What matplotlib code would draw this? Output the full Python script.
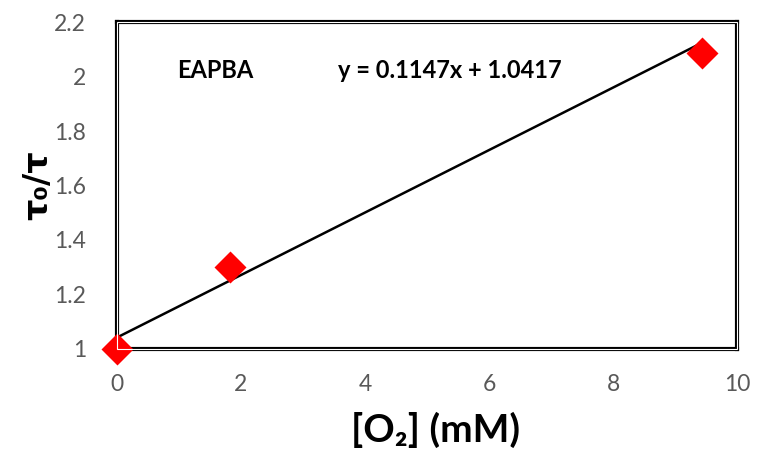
import numpy as np
import matplotlib.pyplot as plt
from matplotlib.patches import Rectangle

plt.rcParams['font.family'] = ['Lato', 'DejaVu Sans']

# data
o2_mm = [0.0, 1.83, 9.44]
tau_ratio = [1.0, 1.30, 2.085]
slope, intercept = 0.1147, 1.0417
xticks = [0, 2, 4, 6, 8, 10]
yticks = [1, 1.2, 1.4, 1.6, 1.8, 2, 2.2]

fig = plt.figure(figsize=(7.67, 4.54), dpi=100)
ax = fig.add_axes([0.1522, 0.2313, 0.8088, 0.7202])

# linear trendline
xfit = np.array([0, max(o2_mm)])
ax.plot(xfit, slope * xfit + intercept, color='black', lw=1.8, zorder=2)
ax.plot(o2_mm, tau_ratio, 'D', color='#ff0000', ms=16, mec='none', zorder=3, clip_on=False)

ax.set_xlim(0, 10)
ax.set_ylim(1, 2.2)
ax.set_xticks(xticks)
ax.set_xticklabels([str(t) for t in xticks])
ax.set_yticks(yticks)
ax.set_yticklabels(['1', '1.2', '1.4', '1.6', '1.8', '2', '2.2'])
ax.tick_params(length=0, labelsize=16.5, labelcolor='#595959')
ax.tick_params(axis='x', pad=18)
ax.tick_params(axis='y', pad=22)

# double-line frame
for s in ax.spines.values():
    s.set_linewidth(3.0)
    s.set_color('black')
ax.add_patch(Rectangle((0, 0), 1, 1, transform=ax.transAxes, fill=False,
                       ec='white', lw=0.8, clip_on=False, zorder=4))

ax.set_xlabel('[O₂] (mM)', fontsize=28, fontweight='bold', va='center')
ax.xaxis.set_label_coords(0.514, -0.248)
ax.set_ylabel('τ₀/τ', fontsize=24, fontweight='bold', va='center',
              family='DejaVu Sans')
ax.yaxis.set_label_coords(-0.128, 0.5)

ax.text(0.097, 0.853, 'EAPBA', transform=ax.transAxes, fontsize=17,
        fontweight='bold', va='center')
ax.text(0.356, 0.853, 'y = 0.1147x + 1.0417', transform=ax.transAxes,
        fontsize=17, fontweight='bold', va='center')

fig.savefig('out.png', dpi=100)
